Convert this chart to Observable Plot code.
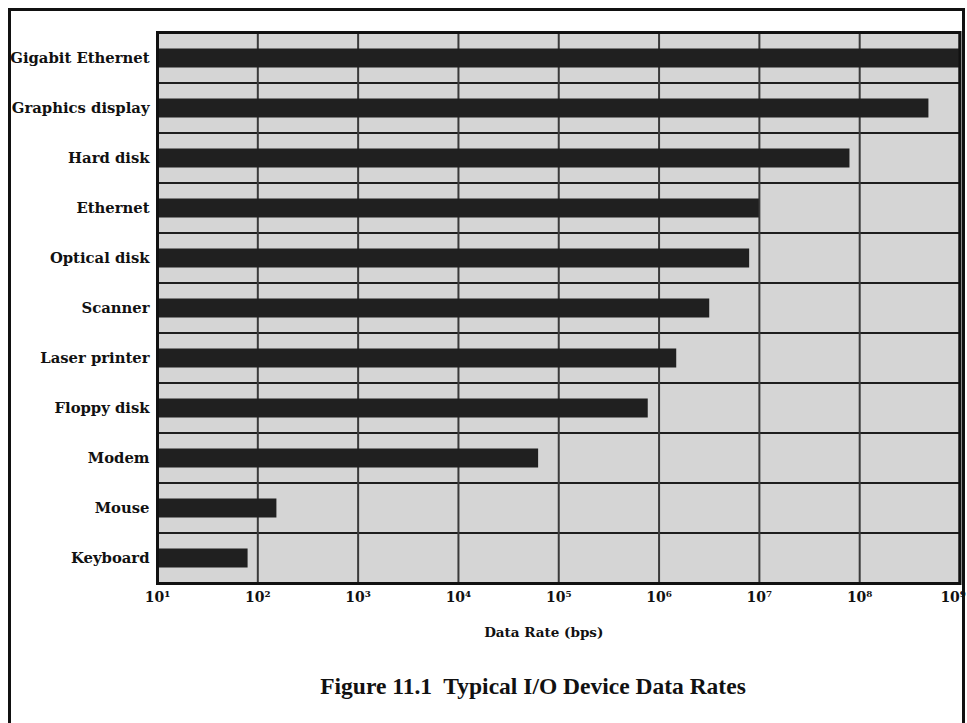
<!DOCTYPE html>
<html>
<head>
<meta charset="utf-8">
<script src="https://cdn.jsdelivr.net/npm/d3@7"></script>
<script src="https://cdn.jsdelivr.net/npm/@observablehq/plot@0.6"></script>
<style>
  html, body { margin: 0; padding: 0; background: #fff; overflow: hidden; width: 967px; height: 723px; }
  #frame { position: absolute; left: 8px; top: 8px; width: 951px; height: 800px; border: 3px solid #111; }
  #chart { position: absolute; left: 0; top: 0; }
  #caption { position: absolute; left: 0; width: 1066px; top: 673px; text-align: center;
    font-family: "Liberation Serif", serif; font-weight: bold; font-size: 23.5px; color: #111; white-space: pre; }
</style>
</head>
<body>
<div id="frame"></div>
<div id="chart"></div>
<div id="caption">Figure 11.1  Typical I/O Device Data Rates</div>
<script>
const devices = ["Gigabit Ethernet", "Graphics display", "Hard disk", "Ethernet", "Optical disk",
  "Scanner", "Laser printer", "Floppy disk", "Modem", "Mouse", "Keyboard"];
const rates = [1e9, 4.9e8, 8e7, 1e7, 8e6, 3.2e6, 1.5e6, 7.8e5, 6.3e4, 155, 80];
const tickValues = [1e1, 1e2, 1e3, 1e4, 1e5, 1e6, 1e7, 1e8, 1e9];
const tickLabels = ["10\u00B9", "10\u00B2", "10\u00B3", "10\u2074", "10\u2075", "10\u2076", "10\u2077", "10\u2078", "10\u2079"];
const xLabel = "Data Rate (bps)";

const data = devices.map((d, i) => ({device: d, rate: rates[i]}));
const xMin = tickValues[0], xMax = tickValues[tickValues.length - 1];
const labelOf = new Map(tickValues.map((v, i) => [v, tickLabels[i]]));

const chart = Plot.plot({
  width: 967,
  height: 655,
  marginLeft: 157,
  marginRight: 7.5,
  marginTop: 32,
  marginBottom: 72,
  style: {fontFamily: "DejaVu Serif", fontWeight: "bold", color: "#111", background: "transparent"},
  x: {type: "log", domain: [xMin, xMax]},
  y: {domain: devices, padding: 0},
  marks: [
    Plot.barX(devices, {y: d => d, x1: xMin, x2: xMax, fill: "#d5d5d5", stroke: "#1e1e1e", strokeWidth: 2}),
    Plot.ruleX(tickValues, {stroke: "#3a3a3a", strokeWidth: 2}),
    Plot.barX(data, {y: "device", x1: xMin, x2: "rate", fill: "#202020", insetTop: 15.5, insetBottom: 15.5}),
    Plot.frame({stroke: "#111", strokeWidth: 3}),
    Plot.axisY({tickSize: 0, tickPadding: 8, fontSize: 14.8, label: null}),
    Plot.axisX({ticks: tickValues.slice(0, -1), tickFormat: d => labelOf.get(d) ?? "", tickSize: 0, tickPadding: 9,
      fontSize: 14, label: null}),
    Plot.axisX({ticks: [xMax], tickFormat: d => labelOf.get(d) ?? "", tickSize: 0, tickPadding: 9,
      fontSize: 14, label: null, textAnchor: "end", dx: 6}),
    Plot.text([xLabel], {frameAnchor: "bottom", dx: -15, dy: 53, fontSize: 13.5, fontWeight: "bold", fill: "#111"})
  ]
});
document.getElementById("chart").appendChild(chart);
</script>
</body>
</html>
